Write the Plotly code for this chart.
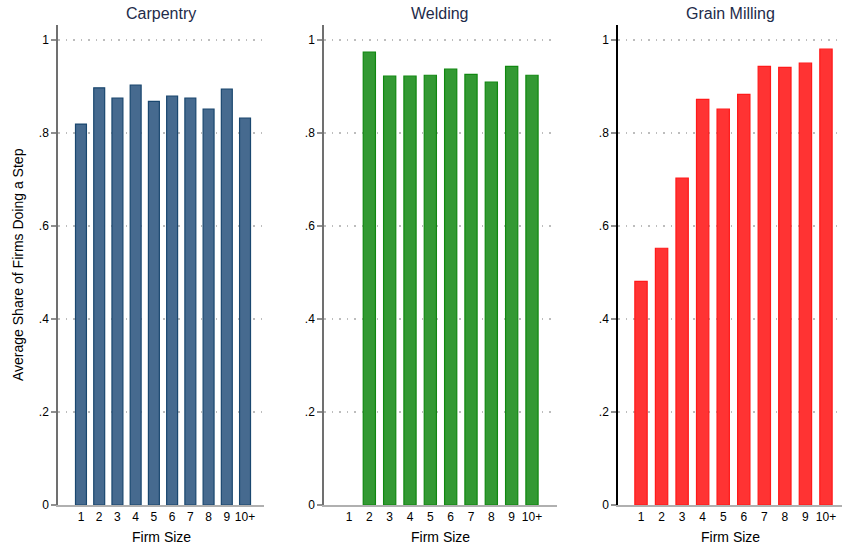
import plotly.graph_objects as go

firm_size = [1, 2, 3, 4, 5, 6, 7, 8, 9, 10]
size_labels = ["1", "2", "3", "4", "5", "6", "7", "8", "9", "10+"]
panels = ["Carpentry", "Welding", "Grain Milling"]

carpentry = [0.819, 0.897, 0.875, 0.903, 0.868, 0.879, 0.875, 0.851, 0.894, 0.832]
welding = [None, 0.974, 0.922, 0.922, 0.924, 0.937, 0.926, 0.909, 0.943, 0.924]
grain_milling = [0.481, 0.552, 0.703, 0.872, 0.851, 0.883, 0.943, 0.941, 0.950, 0.980]

y_ticks = [0, 0.2, 0.4, 0.6, 0.8, 1.0]
y_tick_labels = ["0", ".2", ".4", ".6", ".8", "1"]

series = [carpentry, welding, grain_milling]
fills = ["#466a8f", "#339933", "#ff3333"]
lines = ["#1a476f", "#108810", "#ff1a1a"]
axis_colors = ["#707070", "#707070", "#000000"]
x_domains = [[58 / 844, 264 / 844], [324 / 844, 557 / 844], [618 / 844, 842 / 844]]
x_ranges = [[-0.26, 11.04], [-0.23, 11.23], [-0.12, 10.78]]
y_domain = [45 / 550, 525 / 550]
W, H = 844, 550
FONT = "Liberation Sans, Arial, Helvetica, sans-serif"

fig = go.Figure()
annotations = []
layout = {}
for i, (name, vals) in enumerate(zip(panels, series)):
    sfx = "" if i == 0 else str(i + 1)
    fig.add_trace(go.Bar(
        x=firm_size, y=vals, width=0.6,
        marker=dict(color=fills[i], line=dict(color=lines[i], width=1.2)),
        xaxis="x" + sfx, yaxis="y" + sfx, showlegend=False, name=name,
    ))
    layout["xaxis" + sfx] = dict(
        domain=x_domains[i], range=x_ranges[i], anchor="y" + sfx,
        tickvals=firm_size, ticktext=size_labels, ticks="",
        showgrid=False, zeroline=False, showline=True, automargin=False,
        linecolor="#b0b0b0", linewidth=1.5,
        tickfont=dict(size=12, color="#000000", family=FONT),
    )
    layout["yaxis" + sfx] = dict(
        domain=y_domain, range=[0, 1.032], anchor="x" + sfx,
        tickvals=y_ticks, ticktext=y_tick_labels, automargin=False,
        ticks="outside", ticklen=5, tickcolor="#909090", tickwidth=1.5,
        showline=True, linecolor=axis_colors[i], linewidth=1.5,
        showgrid=True, gridcolor="#bdbdbd", griddash="1.5px,6px", gridwidth=1.5,
        zeroline=False,
        tickfont=dict(size=12, color="#000000", family=FONT),
    )
    cx = (x_domains[i][0] + x_domains[i][1]) / 2
    annotations.append(dict(
        text=name, x=cx, y=1 - 13 / H, xref="paper", yref="paper",
        xanchor="center", yanchor="middle", showarrow=False,
        font=dict(size=16, color="#1e2b4a", family=FONT),
    ))
    annotations.append(dict(
        text="Firm Size", x=cx, y=1 - 537 / H, xref="paper", yref="paper",
        xanchor="center", yanchor="middle", showarrow=False,
        font=dict(size=14, color="#000000", family=FONT),
    ))

annotations.append(dict(
    text="Average Share of Firms Doing a Step", x=18 / W, y=1 - 265 / H,
    xref="paper", yref="paper", xanchor="center", yanchor="middle",
    showarrow=False, textangle=-90,
    font=dict(size=14, color="#000000", family=FONT),
))

fig.update_layout(
    width=W, height=H,
    margin=dict(l=0, r=0, t=0, b=0),
    paper_bgcolor="white", plot_bgcolor="white",
    annotations=annotations,
    bargap=0.4,
    **layout,
)

fig.write_html(
    "out.html",
    config={"displayModeBar": False},
    post_script="document.body.style.margin='0';document.body.style.overflow='hidden';",
)
